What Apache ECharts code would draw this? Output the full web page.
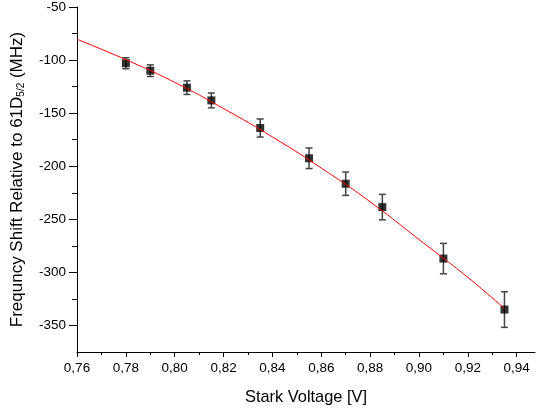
<!DOCTYPE html>
<html>
<head>
<meta charset="utf-8">
<script src="https://cdn.jsdelivr.net/npm/echarts@6/dist/echarts.min.js"></script>
<style>
html,body{margin:0;padding:0;background:#fff;}
#chart{width:536px;height:410px;}
</style>
</head>
<body>
<div id="chart"></div>
<script>
// Measured data points (Stark voltage [V], frequency shift [MHz], error [MHz])
const voltages = [0.78, 0.79, 0.805, 0.815, 0.835, 0.855, 0.87, 0.885, 0.91, 0.935];
const shifts = [-103, -110, -126, -138, -164, -192.5, -216.5, -238.5, -287, -335];
const errors = [5.2, 5.5, 6.4, 7, 8.5, 9.7, 11, 12, 14.3, 16.8];

// Fit curve
const fitVoltages = [0.76, 0.78, 0.80, 0.82, 0.84, 0.86, 0.88, 0.90, 0.92, 0.935];
const fitShifts = [-80.4, -99.6, -121.0, -145.7, -172.4, -201.7, -233.5, -269.0, -304.7, -334.1];

// Axis ticks
const xMajorTicks = [0.76, 0.78, 0.80, 0.82, 0.84, 0.86, 0.88, 0.90, 0.92, 0.94];
const xMinorTicks = [0.77, 0.79, 0.81, 0.83, 0.85, 0.87, 0.89, 0.91, 0.93];
const yMajorTicks = [-350, -300, -250, -200, -150, -100, -50];
const yMinorTicks = [-325, -275, -225, -175, -125, -75];

const FONT = 'Liberation Sans, Arial, sans-serif';

const chart = echarts.init(document.getElementById('chart'), null, {renderer: 'canvas'});

const scatterData = voltages.map((v, i) => [v, shifts[i]]);
const errData = voltages.map((v, i) => [v, shifts[i] - errors[i], shifts[i] + errors[i]]);
const fitData = fitVoltages.map((v, i) => [v, fitShifts[i]]);

const axisCommon = {
  type: 'value',
  splitLine: {show: false},
  axisLine: {show: true, onZero: false, lineStyle: {color: '#000', width: 1}},
};

chart.setOption({
  animation: false,
  backgroundColor: '#fff',
  grid: {left: 77, right: 1, top: 6, bottom: 58, containLabel: false},
  xAxis: [
    Object.assign({}, axisCommon, {
      min: 0.76, max: 0.9475,
      position: 'bottom',
      name: 'Stark Voltage [V]',
      nameLocation: 'middle',
      nameGap: 37,
      nameTextStyle: {fontFamily: FONT, fontSize: 16.4, color: '#000'},
      axisTick: {show: true, customValues: xMajorTicks, length: 5, lineStyle: {color: '#000'}},
      axisLabel: {
        customValues: xMajorTicks,
        fontFamily: FONT, fontSize: 13.5, color: '#000', margin: 9,
        formatter: v => v.toFixed(2).replace('.', ',')
      }
    }),
    Object.assign({}, axisCommon, {
      min: 0.76, max: 0.9475,
      position: 'bottom',
      axisLine: {show: false},
      axisTick: {show: true, customValues: xMinorTicks, length: 3, lineStyle: {color: '#000'}},
      axisLabel: {show: false}
    })
  ],
  yAxis: [
    Object.assign({}, axisCommon, {
      min: -375, max: -50,
      position: 'left',
      name: 'Frequncy Shift Relative to 61D{sub|5/2} (MHz)',
      nameLocation: 'middle',
      nameRotate: 90,
      nameGap: 51,
      nameTextStyle: {
        fontFamily: FONT, fontSize: 17, color: '#000',
        rich: {sub: {fontFamily: FONT, fontSize: 10, color: '#000', verticalAlign: 'bottom', padding: [7, 0, 0, 0]}}
      },
      axisTick: {show: true, customValues: yMajorTicks, length: 8, lineStyle: {color: '#000'}},
      axisLabel: {
        customValues: yMajorTicks,
        fontFamily: FONT, fontSize: 13.5, color: '#000', margin: 11
      }
    }),
    Object.assign({}, axisCommon, {
      min: -375, max: -50,
      position: 'left',
      axisLine: {show: false},
      axisTick: {show: true, customValues: yMinorTicks, length: 5, lineStyle: {color: '#000'}},
      axisLabel: {show: false}
    })
  ],
  series: [
    {
      type: 'custom',
      xAxisIndex: 0, yAxisIndex: 0,
      data: errData,
      z: 2,
      renderItem: function (params, api) {
        const x = api.value(0);
        const lo = api.coord([x, api.value(1)]);
        const hi = api.coord([x, api.value(2)]);
        const w = 3.5;
        const st = {stroke: '#444', lineWidth: 1.5};
        return {
          type: 'group',
          children: [
            {type: 'line', shape: {x1: lo[0], y1: lo[1], x2: hi[0], y2: hi[1]}, style: st},
            {type: 'line', shape: {x1: lo[0] - w, y1: lo[1], x2: lo[0] + w, y2: lo[1]}, style: st},
            {type: 'line', shape: {x1: hi[0] - w, y1: hi[1], x2: hi[0] + w, y2: hi[1]}, style: st}
          ]
        };
      }
    },
    {
      type: 'scatter',
      xAxisIndex: 0, yAxisIndex: 0,
      data: scatterData,
      symbol: 'rect',
      symbolSize: 8,
      itemStyle: {color: '#000'},
      z: 3
    },
    {
      type: 'line',
      xAxisIndex: 0, yAxisIndex: 0,
      data: fitData,
      smooth: true,
      showSymbol: false,
      symbol: 'none',
      lineStyle: {color: '#ff0000', width: 1},
      z: 4
    }
  ]
});
</script>
</body>
</html>
